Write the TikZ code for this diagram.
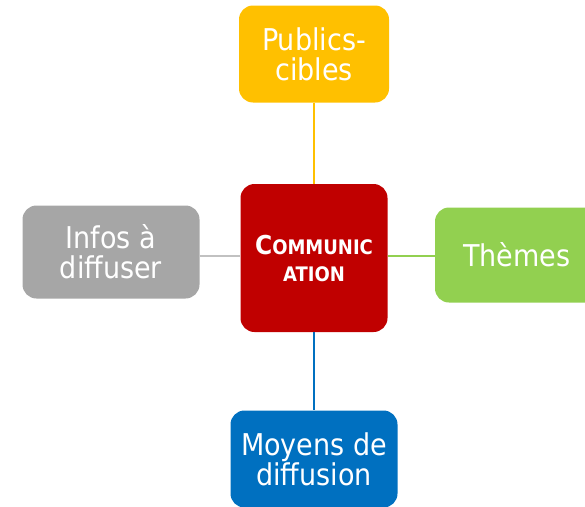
\documentclass[tikz,border=0pt]{standalone}
\usepackage{fontspec}
\setmainfont{DejaVu Sans Condensed}
\definecolor{cred}{HTML}{C00000}
\definecolor{cyellow}{HTML}{FFC000}
\definecolor{cgreen}{HTML}{92D050}
\definecolor{cgray}{HTML}{A6A6A6}
\definecolor{cblue}{HTML}{0070C0}
\tikzset{
  box/.style={rectangle, rounded corners=14pt, text=white, align=center, inner sep=0pt,
    font=\fontsize{30}{30}\selectfont},
  link/.style={line width=2.8pt},
}
\begin{document}
\begin{tikzpicture}[x=1pt,y=-1pt]
\useasboundingbox (0,0) rectangle (585,506);
\clip (0,0) rectangle (585,506);
\node[box, fill=cred, minimum width=147pt, minimum height=148pt,
  font=\bfseries\fontsize{20}{27}\selectfont] (com) at (314,258)
  {{\fontsize{26}{27}\selectfont C}OMMUNIC\\ATION};
\node[box, fill=cyellow, minimum width=150pt, minimum height=97pt] (pub) at (314,54) {Publics-\\cibles};
\node[box, fill=cgreen, minimum width=164pt, minimum height=95pt] (the) at (517,255) {Thèmes};
\node[box, fill=cgray, minimum width=177pt, minimum height=93pt] (inf) at (111,252) {Infos à\\diffuser};
\node[box, fill=cblue, minimum width=167pt, minimum height=97pt] (moy) at (314,459) {Moyens de\\diffusion};
\draw[link, draw=cyellow] (pub) -- (com);
\draw[link, draw=cblue] (com) -- (moy);
\draw[link, draw=cgreen] (com.east |- 0,256) -- (the.west |- 0,256);
\draw[link, draw=cgray!70] (inf.east |- 0,256) -- (com.west |- 0,256);
\end{tikzpicture}
\end{document}
